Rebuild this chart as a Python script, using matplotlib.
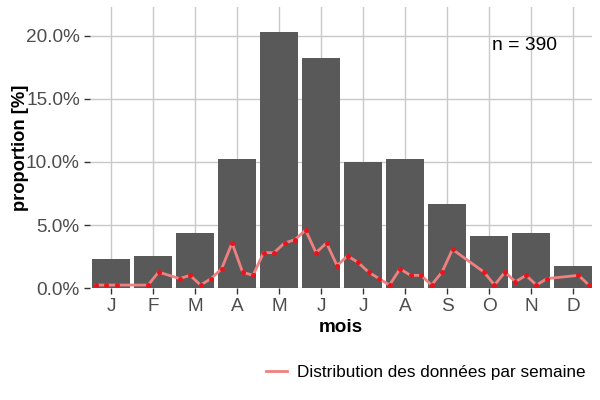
import matplotlib
matplotlib.use("Agg")
import matplotlib.pyplot as plt
from matplotlib.lines import Line2D
from matplotlib.ticker import FuncFormatter
import numpy as np

# ---- data ----
n_total = 390
month_labels = ["J", "F", "M", "A", "M", "J", "J", "A", "S", "O", "N", "D"]
month_counts = [9, 10, 17, 40, 79, 71, 39, 40, 26, 16, 17, 7]

weeks = [1, 2, 3, 6, 7, 9, 10, 11, 12, 13, 14, 15, 16, 17, 18, 19, 20, 21, 22, 23, 24,
         25, 26, 27, 28, 29, 30, 31, 32, 33, 34, 35, 38, 39, 40, 41, 42, 43, 44, 47, 48]
week_counts = [1, 1, 1, 1, 5, 3, 4, 1, 3, 6, 14, 5, 4, 11, 11, 14, 15, 18, 11, 14, 7,
               10, 8, 5, 3, 1, 6, 4, 4, 1, 5, 12, 5, 1, 5, 2, 4, 1, 3, 4, 1]
weeks_per_month = 4
legend_label = "Distribution des données par semaine"
annot = "n = 390"

# ---- derived ----
months = np.arange(1, len(month_labels) + 1)
month_pct = np.array(month_counts) / n_total * 100
week_x = 0.5 + (np.array(weeks) - 0.5) / weeks_per_month
week_pct = np.array(week_counts) / n_total * 100

plt.rcParams['font.family'] = ['Liberation Sans', 'DejaVu Sans']

fig = plt.figure(figsize=(6, 4), dpi=100)
ax = fig.add_axes([89.5 / 600, 1 - 288.3 / 400, (591.7 - 89.5) / 600, (288.3 - 6.7) / 400])

grid_c = '#C9C9C9'
ax.set_axisbelow(True)
ax.grid(True, color=grid_c, linewidth=1.0)

ax.bar(months, month_pct, width=0.9, color='#595959', zorder=2)
ax.plot(week_x, week_pct, color='#F08080', linewidth=2.0, zorder=3)
ax.plot(week_x, week_pct, linestyle='none', marker='o', markersize=3.6,
        color='#E8141C', markeredgewidth=0, zorder=4)

ax.set_xlim(0.48, 12.44)
ax.set_ylim(0, max(month_pct) * 1.1)
ax.set_xticks(months)
ax.set_xticklabels(month_labels)
ax.set_yticks([0, 5, 10, 15, 20])
ax.yaxis.set_major_formatter(FuncFormatter(lambda v, p: f"{v:.1f}%"))

for s in ax.spines.values():
    s.set_visible(False)
ax.tick_params(axis='both', length=4, width=1, color='#333333',
               labelcolor='#4D4D4D', labelsize=13.7, pad=3)

ax.set_xlabel("mois", fontsize=13.6, fontweight='bold', labelpad=3)
ax.set_ylabel("proportion [%]", fontsize=13.2, fontweight='bold', labelpad=-2.5)

ax.text(10.85, 19.2, annot, fontsize=13.9, ha='center', va='center', color='black')

handle = Line2D([0], [0], color='#F08080', linewidth=2.0)
fig.legend([handle], [legend_label], loc='center left',
           bbox_to_anchor=(266 / 600, 1 - 372 / 400), frameon=False,
           fontsize=12.3, handlelength=1.2, handletextpad=0.6, borderpad=0,
           borderaxespad=0)

fig.savefig("out.png", dpi=100)
